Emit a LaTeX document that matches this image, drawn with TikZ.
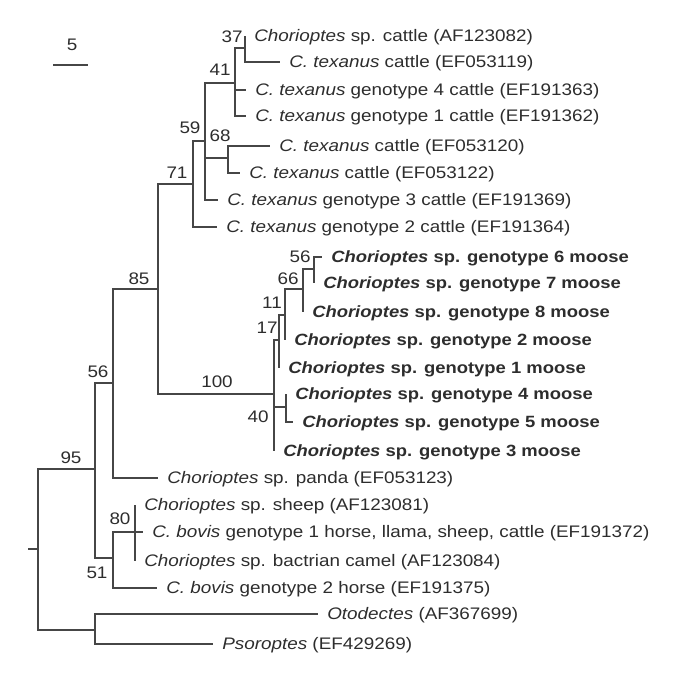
\documentclass[tikz,border=0pt]{standalone}
\usepackage{fontspec}
\setmainfont{Liberation Sans}
\usepackage{xcolor}
\usetikzlibrary{positioning}
\definecolor{ramagris}{RGB}{70,70,70}
\definecolor{textogris}{RGB}{45,45,45}

\begin{document}
\begin{tikzpicture}[
  x=1pt, y=-1pt,
  rama/.style    = {draw=ramagris, line width=1.3pt},
  hoja/.style    = {
    anchor=west, inner xsep=8pt, inner ysep=0pt,
    text height=11.9pt, text depth=0pt, xscale=1.13,
    font=\fontsize{16.7}{19}\selectfont, text=textogris
  },
  hojab/.style   = {hoja, font=\fontsize{16.3}{19}\selectfont\bfseries},
  soporte/.style = {
    inner sep=0pt, text height=11.9pt, text depth=0pt, xscale=1.13,
    font=\fontsize{16.7}{19}\selectfont, text=textogris
  }
]
\useasboundingbox (0,0) rectangle (685,685);

% Barra de escala
\coordinate (esc1) at (53,65);
\coordinate (esc2) at (88,65);
\draw[rama] (esc1) -- (esc2);
\node[soporte] (escala) at (72,45) {5};

% Nodos internos
\coordinate (tallo) at (28,549);
\coordinate (raiz)  at (38,549);
\coordinate (n95)   at (95,469);
\coordinate (nout)  at (95,630);
\coordinate (n56)   at (113,383);
\coordinate (n85)   at (158,289);
\coordinate (n71)   at (193,184);
\coordinate (n59)   at (205,141);
\coordinate (n41)   at (235,83);
\coordinate (n37)   at (245,48);
\coordinate (n68)   at (228,158);
\coordinate (nalce) at (274,394);
\coordinate (n17)   at (279,340);
\coordinate (n11)   at (285,315);
\coordinate (n66)   at (303,289);
\coordinate (n56b)  at (314,269);
\coordinate (n40)   at (286,407);
\coordinate (n51)   at (113,558);
\coordinate (n80)   at (135,532);

% Hojas: C. texanus y afines
\node[hoja] (ct1) at (245,36)  {\textit{Chorioptes} sp. cattle (AF123082)};
\node[hoja] (ct2) at (280,62)  {\textit{C. texanus} cattle (EF053119)};
\node[hoja] (ct3) at (246,90)  {\textit{C. texanus} genotype 4 cattle (EF191363)};
\node[hoja] (ct4) at (246,116) {\textit{C. texanus} genotype 1 cattle (EF191362)};
\node[hoja] (ct5) at (270,146) {\textit{C. texanus} cattle (EF053120)};
\node[hoja] (ct6) at (240,173) {\textit{C. texanus} cattle (EF053122)};
\node[hoja] (ct7) at (218,200) {\textit{C. texanus} genotype 3 cattle (EF191369)};
\node[hoja] (ct8) at (217,227) {\textit{C. texanus} genotype 2 cattle (EF191364)};

% Hojas: alce
\node[hojab] (g6) at (322,257) {\textit{Chorioptes} sp. genotype 6 moose};
\node[hojab] (g7) at (314,283) {\textit{Chorioptes} sp. genotype 7 moose};
\node[hojab] (g8) at (303,312) {\textit{Chorioptes} sp. genotype 8 moose};
\node[hojab] (g2) at (285,340) {\textit{Chorioptes} sp. genotype 2 moose};
\node[hojab] (g1) at (279,368) {\textit{Chorioptes} sp. genotype 1 moose};
\node[hojab] (g4) at (286,394) {\textit{Chorioptes} sp. genotype 4 moose};
\node[hojab] (g5) at (293,422) {\textit{Chorioptes} sp. genotype 5 moose};
\node[hojab] (g3) at (274,451) {\textit{Chorioptes} sp. genotype 3 moose};

% Hojas: resto
\node[hoja] (panda) at (158,478) {\textit{Chorioptes} sp. panda (EF053123)};
\node[hoja] (oveja) at (135,505) {\textit{Chorioptes} sp. sheep (AF123081)};
\node[hoja] (cb1)   at (143,532) {\textit{C. bovis} genotype 1 horse, llama, sheep, cattle (EF191372)};
\node[hoja] (camel) at (135,561) {\textit{Chorioptes} sp. bactrian camel (AF123084)};
\node[hoja] (cb2)   at (157,588) {\textit{C. bovis} genotype 2 horse (EF191375)};
\node[hoja] (oto)   at (318,614) {\textit{Otodectes} (AF367699)};
\node[hoja] (pso)   at (213,644) {\textit{Psoroptes} (EF429269)};

% Ramas
\draw[rama] (tallo) -- (raiz);
\draw[rama] (raiz) |- (n95);
\draw[rama] (raiz) |- (nout);
\draw[rama] (nout) |- (oto.west);
\draw[rama] (nout) |- (pso.west);
\draw[rama] (n95) |- (n56);
\draw[rama] (n95) |- (n51);
\draw[rama] (n56) |- (n85);
\draw[rama] (n56) |- (panda.west);
\draw[rama] (n85) |- (n71);
\draw[rama] (n85) |- (nalce);
\draw[rama] (n71) |- (n59);
\draw[rama] (n71) |- (ct8.west);
\draw[rama] (n59) |- (n41);
\draw[rama] (n59) |- (n68);
\draw[rama] (n59) |- (ct7.west);
\draw[rama] (n41) |- (n37);
\draw[rama] (n41) |- (ct3.west);
\draw[rama] (n41) |- (ct4.west);
\draw[rama] (n37) |- (ct1.west);
\draw[rama] (n37) |- (ct2.west);
\draw[rama] (n68) |- (ct5.west);
\draw[rama] (n68) |- (ct6.west);
\draw[rama] (nalce) |- (n17);
\draw[rama] (nalce) |- (n40);
\draw[rama] (nalce) |- (g3.west);
\draw[rama] (n17) |- (n11);
\draw[rama] (n17) |- (g1.west);
\draw[rama] (n11) |- (n66);
\draw[rama] (n11) |- (g2.west);
\draw[rama] (n66) |- (n56b);
\draw[rama] (n66) |- (g8.west);
\draw[rama] (n56b) |- (g6.west);
\draw[rama] (n56b) |- (g7.west);
\draw[rama] (n40) |- (g4.west);
\draw[rama] (n40) |- (g5.west);
\draw[rama] (n51) |- (n80);
\draw[rama] (n51) |- (cb2.west);
\draw[rama] (n80) |- (oveja.west);
\draw[rama] (n80) |- (cb1.west);
\draw[rama] (n80) |- (camel.west);

% Valores de soporte
\node[soporte] (b37)  at (232,37)  {37};
\node[soporte] (b41)  at (220,70)  {41};
\node[soporte] (b59)  at (190,128) {59};
\node[soporte] (b68)  at (220,136) {68};
\node[soporte] (b71)  at (177,173) {71};
\node[soporte] (b85)  at (139,279) {85};
\node[soporte] (b100) at (217,382) {100};
\node[soporte] (b56b) at (300,257) {56};
\node[soporte] (b66)  at (288,279) {66};
\node[soporte] (b11)  at (272,303) {11};
\node[soporte] (b17)  at (267,328) {17};
\node[soporte] (b40)  at (258,417) {40};
\node[soporte] (b56)  at (98,372)  {56};
\node[soporte] (b95)  at (71,458)  {95};
\node[soporte] (b80)  at (120,519) {80};
\node[soporte] (b51)  at (97,573)  {51};

\end{tikzpicture}
\end{document}
